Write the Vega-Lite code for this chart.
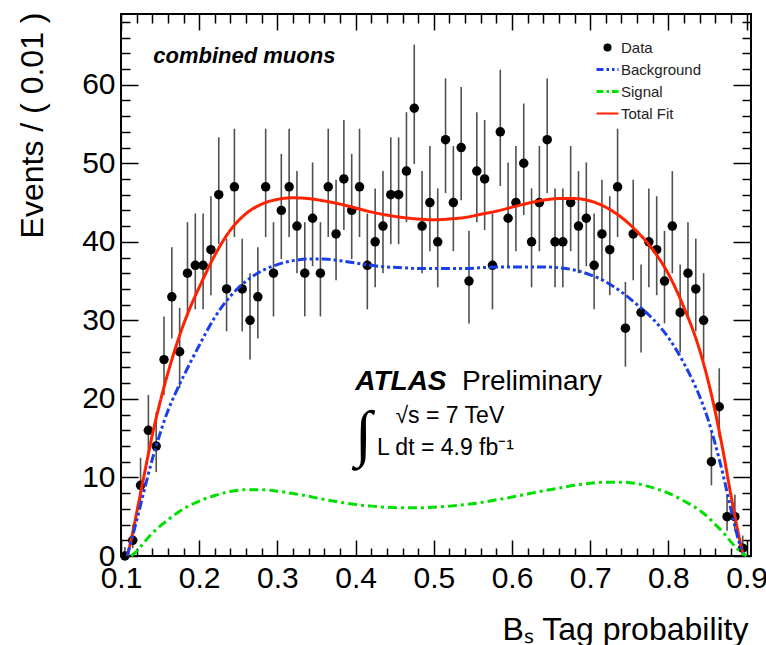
{
  "$schema": "https://vega.github.io/schema/vega-lite/v6.json",
  "width": 630,
  "height": 542,
  "autosize": "none",
  "padding": {"left": 121, "top": 14, "right": 15, "bottom": 89},
  "config": {
    "view": {"stroke": "black", "strokeWidth": 2},
    "font": "Liberation Sans",
    "axis": {"grid": false, "domain": false, "tickColor": "black", "tickWidth": 1.5, "labelColor": "black", "titleColor": "black", "labelFont": "Liberation Sans", "titleFont": "Liberation Sans", "titleFontWeight": "normal", "labelFlush": false, "labelOverlap": false, "labelBound": false}
  },
  "datasets": {
    "points": [
      {"x": 0.105, "n": 0, "lo": 0, "hi": 1.15},
      {"x": 0.115, "n": 2, "lo": 1.0, "hi": 4.0},
      {"x": 0.125, "n": 9, "lo": 6.5, "hi": 12.5},
      {"x": 0.135, "n": 16, "lo": 12.5, "hi": 20.5},
      {"x": 0.145, "n": 14, "lo": 10.7, "hi": 18.3},
      {"x": 0.155, "n": 25, "lo": 20.5, "hi": 30.5},
      {"x": 0.165, "n": 33, "lo": 27.7, "hi": 39.3},
      {"x": 0.175, "n": 26, "lo": 21.4, "hi": 31.6},
      {"x": 0.185, "n": 36, "lo": 30.5, "hi": 42.5},
      {"x": 0.195, "n": 37, "lo": 31.4, "hi": 43.6},
      {"x": 0.205, "n": 37, "lo": 31.4, "hi": 43.6},
      {"x": 0.215, "n": 39, "lo": 33.2, "hi": 45.8},
      {"x": 0.225, "n": 46, "lo": 39.7, "hi": 53.3},
      {"x": 0.235, "n": 34, "lo": 28.6, "hi": 40.4},
      {"x": 0.245, "n": 47, "lo": 40.6, "hi": 54.4},
      {"x": 0.255, "n": 34, "lo": 28.6, "hi": 40.4},
      {"x": 0.265, "n": 30, "lo": 25.0, "hi": 36.0},
      {"x": 0.275, "n": 33, "lo": 27.7, "hi": 39.3},
      {"x": 0.285, "n": 47, "lo": 40.6, "hi": 54.4},
      {"x": 0.295, "n": 36, "lo": 30.5, "hi": 42.5},
      {"x": 0.305, "n": 44, "lo": 37.8, "hi": 51.2},
      {"x": 0.315, "n": 47, "lo": 40.6, "hi": 54.4},
      {"x": 0.325, "n": 42, "lo": 36.0, "hi": 49.0},
      {"x": 0.335, "n": 36, "lo": 30.5, "hi": 42.5},
      {"x": 0.345, "n": 43, "lo": 36.9, "hi": 50.1},
      {"x": 0.355, "n": 36, "lo": 30.5, "hi": 42.5},
      {"x": 0.365, "n": 47, "lo": 40.6, "hi": 54.4},
      {"x": 0.375, "n": 41, "lo": 35.1, "hi": 47.9},
      {"x": 0.385, "n": 48, "lo": 41.5, "hi": 55.5},
      {"x": 0.395, "n": 44, "lo": 37.8, "hi": 51.2},
      {"x": 0.405, "n": 47, "lo": 40.6, "hi": 54.4},
      {"x": 0.415, "n": 37, "lo": 31.4, "hi": 43.6},
      {"x": 0.425, "n": 40, "lo": 34.2, "hi": 46.8},
      {"x": 0.435, "n": 42, "lo": 36.0, "hi": 49.0},
      {"x": 0.445, "n": 46, "lo": 39.7, "hi": 53.3},
      {"x": 0.455, "n": 46, "lo": 39.7, "hi": 53.3},
      {"x": 0.465, "n": 49, "lo": 42.5, "hi": 56.5},
      {"x": 0.475, "n": 57, "lo": 49.9, "hi": 65.1},
      {"x": 0.485, "n": 42, "lo": 36.0, "hi": 49.0},
      {"x": 0.495, "n": 45, "lo": 38.8, "hi": 52.2},
      {"x": 0.505, "n": 40, "lo": 34.2, "hi": 46.8},
      {"x": 0.515, "n": 53, "lo": 46.2, "hi": 60.8},
      {"x": 0.525, "n": 45, "lo": 38.8, "hi": 52.2},
      {"x": 0.535, "n": 52, "lo": 45.3, "hi": 59.7},
      {"x": 0.545, "n": 35, "lo": 29.6, "hi": 41.4},
      {"x": 0.555, "n": 49, "lo": 42.5, "hi": 56.5},
      {"x": 0.565, "n": 48, "lo": 41.5, "hi": 55.5},
      {"x": 0.575, "n": 37, "lo": 31.4, "hi": 43.6},
      {"x": 0.585, "n": 54, "lo": 47.1, "hi": 61.9},
      {"x": 0.595, "n": 43, "lo": 36.9, "hi": 50.1},
      {"x": 0.605, "n": 45, "lo": 38.8, "hi": 52.2},
      {"x": 0.615, "n": 50, "lo": 43.4, "hi": 57.6},
      {"x": 0.625, "n": 40, "lo": 34.2, "hi": 46.8},
      {"x": 0.635, "n": 45, "lo": 38.8, "hi": 52.2},
      {"x": 0.645, "n": 53, "lo": 46.2, "hi": 60.8},
      {"x": 0.655, "n": 40, "lo": 34.2, "hi": 46.8},
      {"x": 0.665, "n": 40, "lo": 34.2, "hi": 46.8},
      {"x": 0.675, "n": 45, "lo": 38.8, "hi": 52.2},
      {"x": 0.685, "n": 42, "lo": 36.0, "hi": 49.0},
      {"x": 0.695, "n": 43, "lo": 36.9, "hi": 50.1},
      {"x": 0.705, "n": 37, "lo": 31.4, "hi": 43.6},
      {"x": 0.715, "n": 41, "lo": 35.1, "hi": 47.9},
      {"x": 0.725, "n": 39, "lo": 33.2, "hi": 45.8},
      {"x": 0.735, "n": 47, "lo": 40.6, "hi": 54.4},
      {"x": 0.745, "n": 29, "lo": 24.1, "hi": 34.9},
      {"x": 0.755, "n": 41, "lo": 35.1, "hi": 47.9},
      {"x": 0.765, "n": 31, "lo": 25.9, "hi": 37.1},
      {"x": 0.775, "n": 40, "lo": 34.2, "hi": 46.8},
      {"x": 0.785, "n": 39, "lo": 33.2, "hi": 45.8},
      {"x": 0.795, "n": 35, "lo": 29.6, "hi": 41.4},
      {"x": 0.805, "n": 42, "lo": 36.0, "hi": 49.0},
      {"x": 0.815, "n": 31, "lo": 25.9, "hi": 37.1},
      {"x": 0.825, "n": 36, "lo": 30.5, "hi": 42.5},
      {"x": 0.835, "n": 34, "lo": 28.6, "hi": 40.4},
      {"x": 0.845, "n": 30, "lo": 25.0, "hi": 36.0},
      {"x": 0.855, "n": 12, "lo": 9.0, "hi": 16.0},
      {"x": 0.865, "n": 19, "lo": 15.1, "hi": 23.9},
      {"x": 0.875, "n": 5, "lo": 3.2, "hi": 7.8},
      {"x": 0.885, "n": 5, "lo": 3.2, "hi": 7.8},
      {"x": 0.895, "n": 1, "lo": 0.4, "hi": 2.6}
    ],
    "curves": [
      {"series": "Total Fit", "x": 0.108, "y": 0},
      {"series": "Total Fit", "x": 0.115, "y": 3},
      {"series": "Total Fit", "x": 0.12, "y": 5.5},
      {"series": "Total Fit", "x": 0.13, "y": 10.5},
      {"series": "Total Fit", "x": 0.14, "y": 15.4},
      {"series": "Total Fit", "x": 0.15, "y": 19.6},
      {"series": "Total Fit", "x": 0.16, "y": 23.3},
      {"series": "Total Fit", "x": 0.17, "y": 26.6},
      {"series": "Total Fit", "x": 0.18, "y": 29.5},
      {"series": "Total Fit", "x": 0.19, "y": 32.0},
      {"series": "Total Fit", "x": 0.20, "y": 34.2},
      {"series": "Total Fit", "x": 0.22, "y": 38.3},
      {"series": "Total Fit", "x": 0.24, "y": 41.5},
      {"series": "Total Fit", "x": 0.26, "y": 43.6},
      {"series": "Total Fit", "x": 0.28, "y": 44.8},
      {"series": "Total Fit", "x": 0.30, "y": 45.4},
      {"series": "Total Fit", "x": 0.32, "y": 45.6},
      {"series": "Total Fit", "x": 0.34, "y": 45.5},
      {"series": "Total Fit", "x": 0.36, "y": 45.2},
      {"series": "Total Fit", "x": 0.38, "y": 44.8},
      {"series": "Total Fit", "x": 0.40, "y": 44.3},
      {"series": "Total Fit", "x": 0.42, "y": 43.8},
      {"series": "Total Fit", "x": 0.44, "y": 43.4},
      {"series": "Total Fit", "x": 0.46, "y": 43.1},
      {"series": "Total Fit", "x": 0.48, "y": 42.9},
      {"series": "Total Fit", "x": 0.50, "y": 42.8},
      {"series": "Total Fit", "x": 0.52, "y": 42.9},
      {"series": "Total Fit", "x": 0.54, "y": 43.1},
      {"series": "Total Fit", "x": 0.56, "y": 43.5},
      {"series": "Total Fit", "x": 0.58, "y": 43.9},
      {"series": "Total Fit", "x": 0.60, "y": 44.4},
      {"series": "Total Fit", "x": 0.62, "y": 44.9},
      {"series": "Total Fit", "x": 0.64, "y": 45.3},
      {"series": "Total Fit", "x": 0.66, "y": 45.5},
      {"series": "Total Fit", "x": 0.68, "y": 45.5},
      {"series": "Total Fit", "x": 0.70, "y": 45.2},
      {"series": "Total Fit", "x": 0.72, "y": 44.4},
      {"series": "Total Fit", "x": 0.74, "y": 43.1},
      {"series": "Total Fit", "x": 0.76, "y": 41.3},
      {"series": "Total Fit", "x": 0.78, "y": 39.0},
      {"series": "Total Fit", "x": 0.80, "y": 35.9},
      {"series": "Total Fit", "x": 0.82, "y": 31.6},
      {"series": "Total Fit", "x": 0.84, "y": 26.2},
      {"series": "Total Fit", "x": 0.85, "y": 22.6},
      {"series": "Total Fit", "x": 0.86, "y": 18.3},
      {"series": "Total Fit", "x": 0.87, "y": 13.3},
      {"series": "Total Fit", "x": 0.88, "y": 7.7},
      {"series": "Total Fit", "x": 0.89, "y": 2.6},
      {"series": "Total Fit", "x": 0.896, "y": 0},
      {"series": "Background", "x": 0.108, "y": 0},
      {"series": "Background", "x": 0.12, "y": 4.5},
      {"series": "Background", "x": 0.13, "y": 8.5},
      {"series": "Background", "x": 0.14, "y": 12.3},
      {"series": "Background", "x": 0.15, "y": 15.6},
      {"series": "Background", "x": 0.16, "y": 18.5},
      {"series": "Background", "x": 0.17, "y": 20.8},
      {"series": "Background", "x": 0.18, "y": 22.9},
      {"series": "Background", "x": 0.20, "y": 26.8},
      {"series": "Background", "x": 0.22, "y": 30.4},
      {"series": "Background", "x": 0.24, "y": 33.1},
      {"series": "Background", "x": 0.26, "y": 35.0},
      {"series": "Background", "x": 0.28, "y": 36.3},
      {"series": "Background", "x": 0.30, "y": 37.1},
      {"series": "Background", "x": 0.32, "y": 37.6},
      {"series": "Background", "x": 0.34, "y": 37.8},
      {"series": "Background", "x": 0.36, "y": 37.8},
      {"series": "Background", "x": 0.38, "y": 37.6},
      {"series": "Background", "x": 0.40, "y": 37.3},
      {"series": "Background", "x": 0.42, "y": 37.0},
      {"series": "Background", "x": 0.44, "y": 36.8},
      {"series": "Background", "x": 0.46, "y": 36.7},
      {"series": "Background", "x": 0.48, "y": 36.6},
      {"series": "Background", "x": 0.50, "y": 36.6},
      {"series": "Background", "x": 0.52, "y": 36.6},
      {"series": "Background", "x": 0.54, "y": 36.6},
      {"series": "Background", "x": 0.56, "y": 36.7},
      {"series": "Background", "x": 0.58, "y": 36.8},
      {"series": "Background", "x": 0.60, "y": 36.8},
      {"series": "Background", "x": 0.62, "y": 36.8},
      {"series": "Background", "x": 0.64, "y": 36.8},
      {"series": "Background", "x": 0.66, "y": 36.7},
      {"series": "Background", "x": 0.68, "y": 36.4},
      {"series": "Background", "x": 0.70, "y": 35.8},
      {"series": "Background", "x": 0.72, "y": 34.9},
      {"series": "Background", "x": 0.74, "y": 33.6},
      {"series": "Background", "x": 0.76, "y": 32.0},
      {"series": "Background", "x": 0.78, "y": 30.2},
      {"series": "Background", "x": 0.80, "y": 27.8},
      {"series": "Background", "x": 0.82, "y": 24.5},
      {"series": "Background", "x": 0.84, "y": 20.3},
      {"series": "Background", "x": 0.85, "y": 17.6},
      {"series": "Background", "x": 0.86, "y": 14.2},
      {"series": "Background", "x": 0.87, "y": 10.3},
      {"series": "Background", "x": 0.88, "y": 5.9},
      {"series": "Background", "x": 0.89, "y": 1.9},
      {"series": "Background", "x": 0.897, "y": 0},
      {"series": "Signal", "x": 0.113, "y": 0},
      {"series": "Signal", "x": 0.12, "y": 0.6},
      {"series": "Signal", "x": 0.13, "y": 1.8},
      {"series": "Signal", "x": 0.14, "y": 2.9},
      {"series": "Signal", "x": 0.15, "y": 3.8},
      {"series": "Signal", "x": 0.16, "y": 4.6},
      {"series": "Signal", "x": 0.18, "y": 6.0},
      {"series": "Signal", "x": 0.20, "y": 7.0},
      {"series": "Signal", "x": 0.22, "y": 7.7},
      {"series": "Signal", "x": 0.24, "y": 8.2},
      {"series": "Signal", "x": 0.26, "y": 8.45},
      {"series": "Signal", "x": 0.28, "y": 8.45},
      {"series": "Signal", "x": 0.30, "y": 8.25},
      {"series": "Signal", "x": 0.32, "y": 7.95},
      {"series": "Signal", "x": 0.34, "y": 7.6},
      {"series": "Signal", "x": 0.36, "y": 7.2},
      {"series": "Signal", "x": 0.38, "y": 6.85},
      {"series": "Signal", "x": 0.40, "y": 6.55},
      {"series": "Signal", "x": 0.42, "y": 6.35},
      {"series": "Signal", "x": 0.44, "y": 6.2},
      {"series": "Signal", "x": 0.46, "y": 6.15},
      {"series": "Signal", "x": 0.48, "y": 6.15},
      {"series": "Signal", "x": 0.50, "y": 6.2},
      {"series": "Signal", "x": 0.52, "y": 6.35},
      {"series": "Signal", "x": 0.54, "y": 6.55},
      {"series": "Signal", "x": 0.56, "y": 6.8},
      {"series": "Signal", "x": 0.58, "y": 7.15},
      {"series": "Signal", "x": 0.60, "y": 7.5},
      {"series": "Signal", "x": 0.62, "y": 7.9},
      {"series": "Signal", "x": 0.64, "y": 8.3},
      {"series": "Signal", "x": 0.66, "y": 8.65},
      {"series": "Signal", "x": 0.68, "y": 9.0},
      {"series": "Signal", "x": 0.70, "y": 9.25},
      {"series": "Signal", "x": 0.72, "y": 9.4},
      {"series": "Signal", "x": 0.74, "y": 9.4},
      {"series": "Signal", "x": 0.76, "y": 9.2},
      {"series": "Signal", "x": 0.78, "y": 8.7},
      {"series": "Signal", "x": 0.80, "y": 8.0},
      {"series": "Signal", "x": 0.82, "y": 7.0},
      {"series": "Signal", "x": 0.84, "y": 5.8},
      {"series": "Signal", "x": 0.85, "y": 5.0},
      {"series": "Signal", "x": 0.86, "y": 4.0},
      {"series": "Signal", "x": 0.87, "y": 3.0},
      {"series": "Signal", "x": 0.88, "y": 1.8},
      {"series": "Signal", "x": 0.89, "y": 0.7},
      {"series": "Signal", "x": 0.90, "y": 0}
    ]
  },
  "resolve": {"axis": {"x": "independent", "y": "independent"}},
  "layer": [
    {
      "data": {"name": "points"},
      "mark": {"type": "rule", "color": "#505050", "strokeWidth": 1.6},
      "encoding": {
        "x": {"field": "x", "type": "quantitative", "scale": {"domain": [0.1, 0.9056], "nice": false, "zero": false},
          "axis": {"orient": "bottom", "values": [0.1, 0.2, 0.3, 0.4, 0.5, 0.6, 0.7, 0.8, 0.9], "format": ".1f", "labelFontSize": 30, "labelPadding": 7, "ticks": false, "title": "Bₛ Tag probability", "titleFontSize": 32, "titleAnchor": "end", "titleAlign": "right", "titleBaseline": "alphabetic", "titleX": 627, "titleY": 83}},
        "y": {"field": "lo", "type": "quantitative", "scale": {"domain": [0, 69], "nice": false, "zero": false},
          "axis": {"orient": "left", "values": [0, 10, 20, 30, 40, 50, 60], "labelFontSize": 30, "labelPadding": 6, "ticks": false, "title": "Events / ( 0.01 )", "titleFontSize": 32, "titleAnchor": "end", "titleAlign": "right", "titleAngle": -90, "titleBaseline": "bottom", "titleX": -72, "titleY": -2}},
        "y2": {"field": "hi"}
      }
    },
    {
      "data": {"name": "points"},
      "mark": {"type": "circle", "size": 90, "opacity": 1},
      "encoding": {
        "x": {"field": "x", "type": "quantitative", "scale": {"domain": [0.1, 0.9056], "nice": false, "zero": false},
          "axis": {"orient": "top", "values": [0.1, 0.2, 0.3, 0.4, 0.5, 0.6, 0.7, 0.8, 0.9], "labels": false, "ticks": true, "tickSize": -16, "title": null}},
        "y": {"field": "n", "type": "quantitative", "scale": {"domain": [0, 69], "nice": false, "zero": false},
          "axis": {"orient": "right", "values": [0, 10, 20, 30, 40, 50, 60], "labels": false, "ticks": true, "tickSize": -18, "title": null}},
        "color": {"datum": "Data", "type": "nominal", "scale": {"domain": ["Data", "Background", "Signal", "Total Fit"], "range": ["black", "#1a3ee8", "#00e000", "#ff2200"]},
          "legend": {"orient": "none", "legendX": 479, "legendY": 26, "title": null, "padding": 0, "values": ["Data", "Background", "Signal", "Total Fit"], "labelFontSize": 15, "labelColor": "#222222", "labelFont": "Liberation Sans", "labelOffset": 6, "symbolSize": 484, "symbolType": "stroke", "symbolStrokeWidth": 3, "rowPadding": 6,
            "encode": {"symbols": {"update": {
              "shape": {"signal": "datum.value === 'Data' ? 'circle' : 'stroke'"},
              "size": {"signal": "datum.value === 'Data' ? 64 : 484"},
              "fill": {"signal": "datum.value === 'Data' ? 'black' : 'transparent'"},
              "stroke": {"signal": "datum.value === 'Data' ? 'black' : datum.value === 'Background' ? '#1a3ee8' : datum.value === 'Signal' ? '#00e000' : '#ff2200'"},
              "strokeWidth": {"signal": "datum.value === 'Data' ? 0 : (datum.value === 'Total Fit' ? 2 : 3)"},
              "strokeDash": {"signal": "datum.value === 'Background' ? [7,3,2.5,3,2.5,3] : datum.value === 'Signal' ? [7,3,2.5,3] : [1,0]"},
              "opacity": {"value": 1}
            }}}}}
      }
    },
    {
      "data": {"name": "curves"},
      "mark": {"type": "line", "strokeWidth": 3, "interpolate": "monotone"},
      "encoding": {
        "x": {"field": "x", "type": "quantitative", "scale": {"domain": [0.1, 0.9056], "nice": false, "zero": false},
          "axis": {"orient": "bottom", "values": [0.1, 0.2, 0.3, 0.4, 0.5, 0.6, 0.7, 0.8, 0.9], "labels": false, "ticks": true, "tickSize": -16, "title": null}},
        "y": {"field": "y", "type": "quantitative", "scale": {"domain": [0, 69], "nice": false, "zero": false},
          "axis": {"orient": "left", "values": [0, 10, 20, 30, 40, 50, 60], "labels": false, "ticks": true, "tickSize": -17, "title": null}},
        "color": {"field": "series", "type": "nominal", "scale": {"domain": ["Data", "Background", "Signal", "Total Fit"], "range": ["black", "#1a3ee8", "#00e000", "#ff2200"]},
          "legend": {"orient": "none", "legendX": 479, "legendY": 26, "title": null, "padding": 0, "values": ["Data", "Background", "Signal", "Total Fit"], "labelFontSize": 15, "labelColor": "#222222", "labelFont": "Liberation Sans", "labelOffset": 6, "symbolSize": 484, "symbolType": "stroke", "symbolStrokeWidth": 3, "rowPadding": 6,
            "encode": {"symbols": {"update": {
              "shape": {"signal": "datum.value === 'Data' ? 'circle' : 'stroke'"},
              "size": {"signal": "datum.value === 'Data' ? 64 : 484"},
              "fill": {"signal": "datum.value === 'Data' ? 'black' : 'transparent'"},
              "stroke": {"signal": "datum.value === 'Data' ? 'black' : datum.value === 'Background' ? '#1a3ee8' : datum.value === 'Signal' ? '#00e000' : '#ff2200'"},
              "strokeWidth": {"signal": "datum.value === 'Data' ? 0 : (datum.value === 'Total Fit' ? 2 : 3)"},
              "strokeDash": {"signal": "datum.value === 'Background' ? [7,3,2.5,3,2.5,3] : datum.value === 'Signal' ? [7,3,2.5,3] : [1,0]"},
              "opacity": {"value": 1}
            }}}}},
        "strokeDash": {"field": "series", "type": "nominal", "scale": {"domain": ["Background", "Signal", "Total Fit"], "range": [[9, 3, 3, 3, 3, 3], [9, 4, 3, 4], [1, 0]]}, "legend": null}
      }
    },
    {
      "data": {"values": [{"label": "combined muons"}]},
      "mark": {"type": "text", "font": "Liberation Sans", "fontSize": 22, "fontWeight": "bold", "fontStyle": "italic", "align": "left", "baseline": "alphabetic", "color": "black"},
      "encoding": {
        "x": {"datum": 0.1413, "type": "quantitative", "scale": {"domain": [0.1, 0.9056], "nice": false, "zero": false},
          "axis": {"orient": "top", "values": [0.12, 0.14, 0.16, 0.18, 0.22, 0.24, 0.26, 0.28, 0.32, 0.34, 0.36, 0.38, 0.42, 0.44, 0.46, 0.48, 0.52, 0.54, 0.56, 0.58, 0.62, 0.64, 0.66, 0.68, 0.72, 0.74, 0.76, 0.78, 0.82, 0.84, 0.86, 0.88], "labels": false, "ticks": true, "tickSize": -9, "title": null}},
        "y": {"datum": 62.8, "type": "quantitative", "scale": {"domain": [0, 69], "nice": false, "zero": false},
          "axis": {"orient": "right", "values": [2, 4, 6, 8, 12, 14, 16, 18, 22, 24, 26, 28, 32, 34, 36, 38, 42, 44, 46, 48, 52, 54, 56, 58, 62, 64, 66, 68], "labels": false, "ticks": true, "tickSize": -9, "title": null}},
        "text": {"field": "label"}
      }
    },
    {
      "data": {"values": [{"label": "ATLAS"}]},
      "mark": {"type": "text", "font": "Liberation Sans", "fontSize": 28, "fontWeight": "bold", "fontStyle": "italic", "align": "left", "baseline": "alphabetic", "color": "black"},
      "encoding": {
        "x": {"datum": 0.3996, "type": "quantitative", "scale": {"domain": [0.1, 0.9056], "nice": false, "zero": false},
          "axis": {"orient": "bottom", "values": [0.12, 0.14, 0.16, 0.18, 0.22, 0.24, 0.26, 0.28, 0.32, 0.34, 0.36, 0.38, 0.42, 0.44, 0.46, 0.48, 0.52, 0.54, 0.56, 0.58, 0.62, 0.64, 0.66, 0.68, 0.72, 0.74, 0.76, 0.78, 0.82, 0.84, 0.86, 0.88], "labels": false, "ticks": true, "tickSize": -8, "title": null}},
        "y": {"datum": 21.08, "type": "quantitative", "scale": {"domain": [0, 69], "nice": false, "zero": false},
          "axis": {"orient": "left", "values": [2, 4, 6, 8, 12, 14, 16, 18, 22, 24, 26, 28, 32, 34, 36, 38, 42, 44, 46, 48, 52, 54, 56, 58, 62, 64, 66, 68], "labels": false, "ticks": true, "tickSize": -9, "title": null}},
        "text": {"field": "label"}
      }
    },
    {
      "data": {"values": [{"label": "Preliminary"}]},
      "mark": {"type": "text", "font": "Liberation Sans", "fontSize": 28, "align": "left", "baseline": "alphabetic", "color": "black"},
      "encoding": {
        "x": {"datum": 0.536, "type": "quantitative", "scale": {"domain": [0.1, 0.9056], "nice": false, "zero": false}, "axis": null},
        "y": {"datum": 21.08, "type": "quantitative", "scale": {"domain": [0, 69], "nice": false, "zero": false}, "axis": null},
        "text": {"field": "label"}
      }
    },
    {
      "data": {"values": [{"label": "√s = 7 TeV"}]},
      "mark": {"type": "text", "font": "Liberation Sans", "fontSize": 23, "align": "left", "baseline": "alphabetic", "color": "black"},
      "encoding": {
        "x": {"datum": 0.451, "type": "quantitative", "scale": {"domain": [0.1, 0.9056], "nice": false, "zero": false}, "axis": null},
        "y": {"datum": 16.9, "type": "quantitative", "scale": {"domain": [0, 69], "nice": false, "zero": false}, "axis": null},
        "text": {"field": "label"}
      }
    },
    {
      "data": {"values": [{"label": "L dt = 4.9 fb⁻¹"}]},
      "mark": {"type": "text", "font": "Liberation Sans", "fontSize": 23, "align": "left", "baseline": "alphabetic", "color": "black"},
      "encoding": {
        "x": {"datum": 0.4274, "type": "quantitative", "scale": {"domain": [0.1, 0.9056], "nice": false, "zero": false}, "axis": null},
        "y": {"datum": 12.8, "type": "quantitative", "scale": {"domain": [0, 69], "nice": false, "zero": false}, "axis": null},
        "text": {"field": "label"}
      }
    },
    {
      "data": {"values": [{"label": "∫"}]},
      "mark": {"type": "text", "font": "DejaVu Sans", "fontWeight": 200, "fontSize": 62, "align": "center", "baseline": "alphabetic", "color": "black"},
      "encoding": {
        "x": {"datum": 0.41, "type": "quantitative", "scale": {"domain": [0.1, 0.9056], "nice": false, "zero": false}, "axis": null},
        "y": {"datum": 13.0, "type": "quantitative", "scale": {"domain": [0, 69], "nice": false, "zero": false}, "axis": null},
        "text": {"field": "label"}
      }
    }
  ]
}
